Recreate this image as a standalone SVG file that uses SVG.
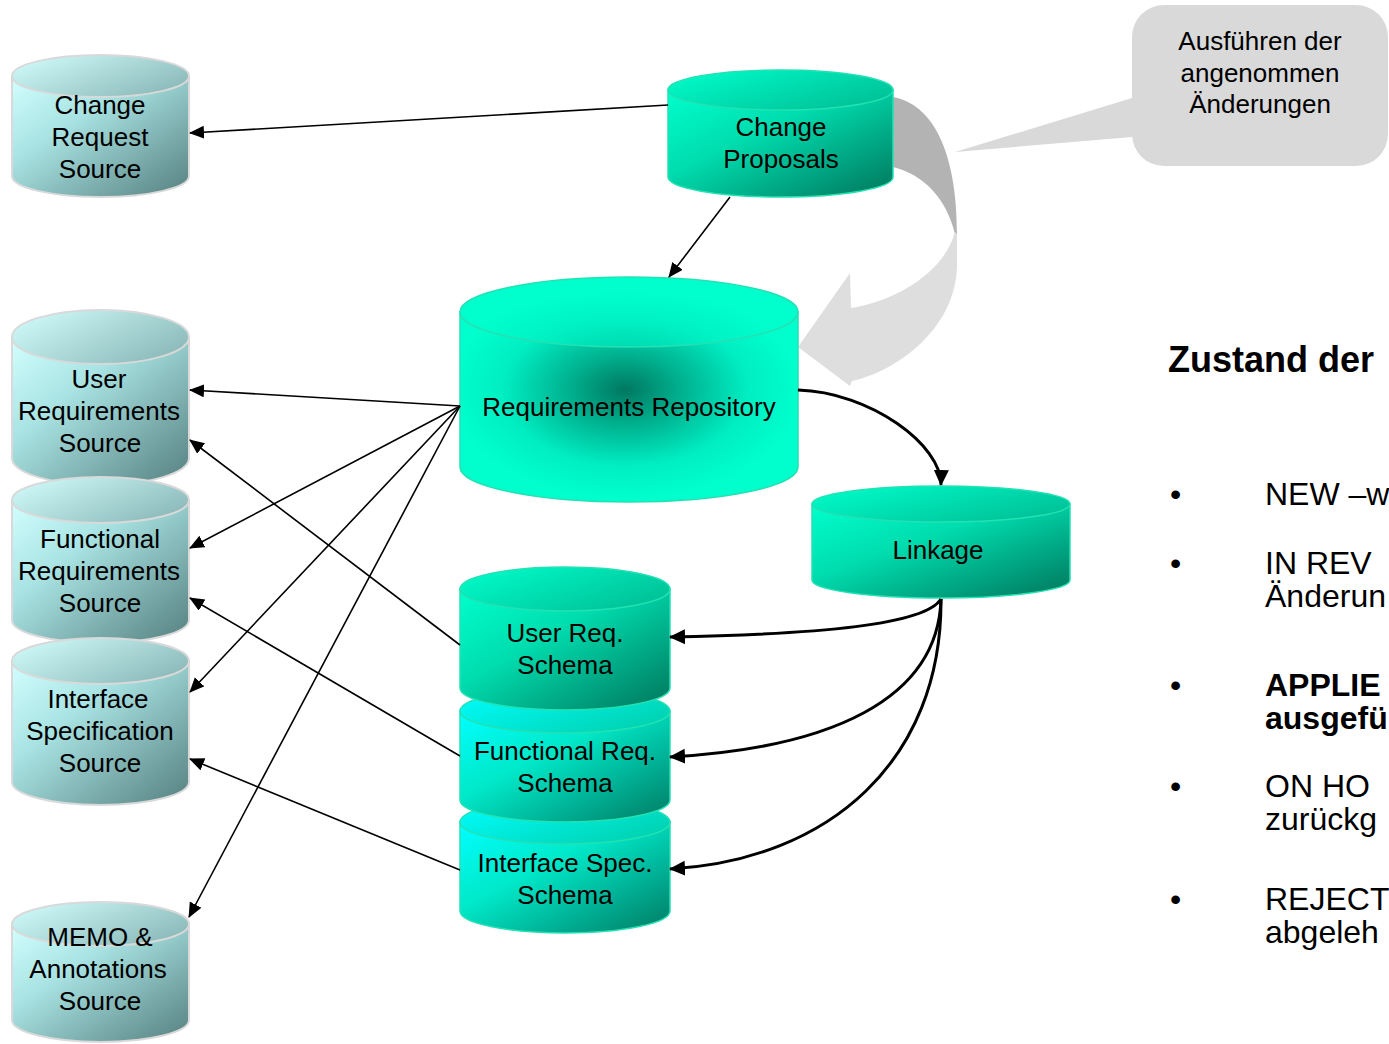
<svg xmlns="http://www.w3.org/2000/svg" width="1389" height="1044" viewBox="0 0 1389 1044">
  <style>
    text { font-family: "Liberation Sans", Arial, sans-serif; fill: #000; }
    .lbl { font-size: 26px; text-anchor: middle; }
    .src-body { fill: url(#srcBody); stroke: #d9d9d9; stroke-width: 2; }
    .src-top { fill: url(#srcTop); stroke: #d9d9d9; stroke-width: 2; }
    .teal-body { fill: url(#tealBody); stroke: #22e2b4; stroke-width: 1.5; }
    .teal-top { fill: url(#tealTop); stroke: #22e2b4; stroke-width: 1.5; }
    .cyan-body { fill: url(#cyanBody); stroke: #22e2b4; stroke-width: 1.5; }
    .cyan-top { fill: url(#cyanTop); stroke: #22e2b4; stroke-width: 1.5; }
    .ln { fill: none; stroke: #000; stroke-width: 1.6; marker-end: url(#ah); }
    .cv { fill: none; stroke: #000; stroke-width: 3; marker-end: url(#ah2); }
    .side { font-size: 32px; }
    .bold { font-weight: bold; }
  </style>
  <defs>
    <linearGradient id="srcBody" x1="0" y1="0" x2="1" y2="1">
      <stop offset="0" stop-color="#d2ffff"/>
      <stop offset="0.35" stop-color="#a9e3e3"/>
      <stop offset="1" stop-color="#557f7f"/>
    </linearGradient>
    <linearGradient id="srcTop" x1="0" y1="0" x2="1" y2="0.6">
      <stop offset="0" stop-color="#d4ffff"/>
      <stop offset="1" stop-color="#8fbcbc"/>
    </linearGradient>
    <linearGradient id="tealBody" x1="0" y1="0" x2="1" y2="1">
      <stop offset="0" stop-color="#00ffcc"/>
      <stop offset="0.4" stop-color="#00dcae"/>
      <stop offset="1" stop-color="#00755b"/>
    </linearGradient>
    <linearGradient id="tealTop" x1="0" y1="0" x2="1" y2="0.6">
      <stop offset="0" stop-color="#00ffcc"/>
      <stop offset="1" stop-color="#00c49a"/>
    </linearGradient>
    <linearGradient id="cyanBody" x1="0" y1="0" x2="1" y2="1">
      <stop offset="0" stop-color="#00ffff"/>
      <stop offset="0.4" stop-color="#00e8c8"/>
      <stop offset="1" stop-color="#007a62"/>
    </linearGradient>
    <linearGradient id="cyanTop" x1="0" y1="0" x2="1" y2="0.6">
      <stop offset="0" stop-color="#00ffff"/>
      <stop offset="1" stop-color="#00d4b4"/>
    </linearGradient>
    <radialGradient id="repoBody" gradientUnits="userSpaceOnUse" cx="625" cy="390" r="175" gradientTransform="translate(625 390) scale(1 0.62) translate(-625 -390)">
      <stop offset="0" stop-color="#007860"/>
      <stop offset="0.3" stop-color="#00ad8c"/>
      <stop offset="0.7" stop-color="#00eec2"/>
      <stop offset="1" stop-color="#00ffcc"/>
    </radialGradient>
    <radialGradient id="repoTop" gradientUnits="userSpaceOnUse" cx="625" cy="360" r="170" gradientTransform="translate(625 360) scale(1 0.4) translate(-625 -360)">
      <stop offset="0" stop-color="#00d0a8"/>
      <stop offset="0.6" stop-color="#00f2c4"/>
      <stop offset="1" stop-color="#00ffcc"/>
    </radialGradient>
    <marker id="ah" markerWidth="16" markerHeight="14" refX="14" refY="6.5" orient="auto" markerUnits="userSpaceOnUse">
      <path d="M0,0 L15,6.5 L0,13 Z" fill="#000"/>
    </marker>
    <marker id="ah2" markerWidth="18" markerHeight="16" refX="15" refY="7.5" orient="auto" markerUnits="userSpaceOnUse">
      <path d="M0,0 L16,7.5 L0,15 Z" fill="#000"/>
    </marker>
  </defs>

  <!-- speech bubble -->
  <g id="callout">
    <path d="M1132,98 L955,152 L1132,137 Z" fill="#d9d9d9"/>
    <rect x="1132" y="5" width="256" height="161" rx="32" fill="#d9d9d9"/>
    <text class="lbl" x="1260" y="50">Ausführen der</text>
    <text class="lbl" x="1260" y="82">angenommen</text>
    <text class="lbl" x="1260" y="113">Änderungen</text>
  </g>

  <!-- curved block arrow: proposals fed back into repository -->
  <g id="apply-arrow">
    <path d="M893,97 C932,104 957,150 957,234 L955,234 C947,200 925,175 893,167 Z" fill="#b3b3b3"/>
    <path d="M955,232 L957,234 L957,267 C955,330 895,372 852,381 L850,386 L798,347 L850,273 L851,308 C900,300 945,270 955,232 Z" fill="#dedede"/>
  </g>

  <!-- source stores (left column) -->
  <g id="change-request-source">
    <path class="src-body" d="M12,76 V176 A88.5,21 0 0 0 189,176 V76 Z"/>
    <ellipse class="src-top" cx="100.5" cy="76" rx="88.5" ry="21"/>
    <text class="lbl" x="100" y="114">Change</text>
    <text class="lbl" x="100" y="146">Request</text>
    <text class="lbl" x="100" y="178">Source</text>
  </g>
  <g id="user-requirements-source">
    <path class="src-body" d="M12,337 V458 A88.5,27 0 0 0 189,458 V337 Z"/>
    <ellipse class="src-top" cx="100.5" cy="337" rx="88.5" ry="27"/>
    <text class="lbl" x="99" y="388">User</text>
    <text class="lbl" x="99" y="420">Requirements</text>
    <text class="lbl" x="100" y="452">Source</text>
  </g>
  <g id="functional-requirements-source">
    <path class="src-body" d="M12,500 V620 A88.5,23 0 0 0 189,620 V500 Z"/>
    <ellipse class="src-top" cx="100.5" cy="500" rx="88.5" ry="23"/>
    <text class="lbl" x="100" y="548">Functional</text>
    <text class="lbl" x="99" y="580">Requirements</text>
    <text class="lbl" x="100" y="612">Source</text>
  </g>
  <g id="interface-specification-source">
    <path class="src-body" d="M12,661 V782 A88.5,23 0 0 0 189,782 V661 Z"/>
    <ellipse class="src-top" cx="100.5" cy="661" rx="88.5" ry="23"/>
    <text class="lbl" x="98" y="708">Interface</text>
    <text class="lbl" x="100" y="740">Specification</text>
    <text class="lbl" x="100" y="772">Source</text>
  </g>
  <g id="memo-annotations-source">
    <path class="src-body" d="M12,924 V1020 A88.5,22 0 0 0 189,1020 V924 Z"/>
    <ellipse class="src-top" cx="100.5" cy="924" rx="88.5" ry="22"/>
    <text class="lbl" x="100" y="946">MEMO &amp;</text>
    <text class="lbl" x="98" y="978">Annotations</text>
    <text class="lbl" x="100" y="1010">Source</text>
  </g>

  <!-- central stores -->
  <g id="change-proposals">
    <path class="teal-body" d="M668,90 V177 A112.5,20 0 0 0 893,177 V90 Z"/>
    <ellipse class="teal-top" cx="780.5" cy="90" rx="112.5" ry="20"/>
    <text class="lbl" x="781" y="136">Change</text>
    <text class="lbl" x="781" y="168">Proposals</text>
  </g>
  <g id="requirements-repository">
    <path d="M460,312 V467 A169,35 0 0 0 798,467 V312 Z" fill="url(#repoBody)" stroke="#22e2b4" stroke-width="1.5"/>
    <ellipse cx="629" cy="312" rx="169" ry="35" fill="url(#repoTop)" stroke="#22e2b4" stroke-width="1.5"/>
    <text class="lbl" x="629" y="416">Requirements Repository</text>
  </g>
  <g id="linkage">
    <path class="teal-body" d="M812,504 V580 A129,18 0 0 0 1070,580 V504 Z"/>
    <ellipse class="teal-top" cx="941" cy="504" rx="129" ry="18"/>
    <text class="lbl" x="938" y="559">Linkage</text>
  </g>

  <!-- schema stack, drawn bottom-up so each upper store overlaps the next -->
  <g id="interface-spec-schema">
    <path class="cyan-body" d="M460,822 V911 A105,22 0 0 0 670,911 V822 Z"/>
    <ellipse class="cyan-top" cx="565" cy="822" rx="105" ry="22"/>
    <text class="lbl" x="565" y="872">Interface Spec.</text>
    <text class="lbl" x="565" y="904">Schema</text>
  </g>
  <g id="functional-req-schema">
    <path class="cyan-body" d="M460,711 V800 A105,22 0 0 0 670,800 V711 Z"/>
    <ellipse class="cyan-top" cx="565" cy="711" rx="105" ry="22"/>
    <text class="lbl" x="565" y="760">Functional Req.</text>
    <text class="lbl" x="565" y="792">Schema</text>
  </g>
  <g id="user-req-schema">
    <path class="teal-body" d="M460,589 V688 A105,22 0 0 0 670,688 V589 Z"/>
    <ellipse class="teal-top" cx="565" cy="589" rx="105" ry="22"/>
    <text class="lbl" x="565" y="642">User Req.</text>
    <text class="lbl" x="565" y="674">Schema</text>
  </g>

  <!-- connectors -->
  <g id="connectors">
    <line class="ln" x1="668" y1="105" x2="190" y2="133"/>
    <line class="ln" x1="730" y1="197" x2="669" y2="277"/>
    <line class="ln" x1="460" y1="406" x2="190" y2="390"/>
    <line class="ln" x1="460" y1="406" x2="190" y2="548"/>
    <line class="ln" x1="460" y1="406" x2="190" y2="692"/>
    <line class="ln" x1="460" y1="406" x2="189" y2="917"/>
    <line class="ln" x1="460" y1="645" x2="190" y2="440"/>
    <line class="ln" x1="460" y1="756" x2="190" y2="598"/>
    <line class="ln" x1="460" y1="870" x2="190" y2="759"/>
    <path class="cv" d="M798,390 C870,392 942,445 941,485"/>
    <path class="cv" d="M941,599 C925,625 820,634 670,637"/>
    <path class="cv" d="M941,599 C938,700 830,748 670,757"/>
    <path class="cv" d="M941,599 C942,760 830,860 670,869"/>
  </g>

  <!-- status list -->
  <g id="status-list">
    <text class="bold" x="1168" y="372" font-size="36">Zustand der</text>
    <text class="side" x="1170" y="505">•</text>
    <text class="side" x="1265" y="505">NEW –w</text>
    <text class="side" x="1170" y="574">•</text>
    <text class="side" x="1265" y="574">IN REV</text>
    <text class="side" x="1265" y="607">Änderun</text>
    <text class="side" x="1170" y="696">•</text>
    <text class="side bold" x="1265" y="696">APPLIE</text>
    <text class="side bold" x="1265" y="729">ausgefü</text>
    <text class="side" x="1170" y="797">•</text>
    <text class="side" x="1265" y="797">ON HO</text>
    <text class="side" x="1265" y="830">zurückg</text>
    <text class="side" x="1170" y="910">•</text>
    <text class="side" x="1265" y="910">REJECT</text>
    <text class="side" x="1265" y="943">abgeleh</text>
  </g>
</svg>
